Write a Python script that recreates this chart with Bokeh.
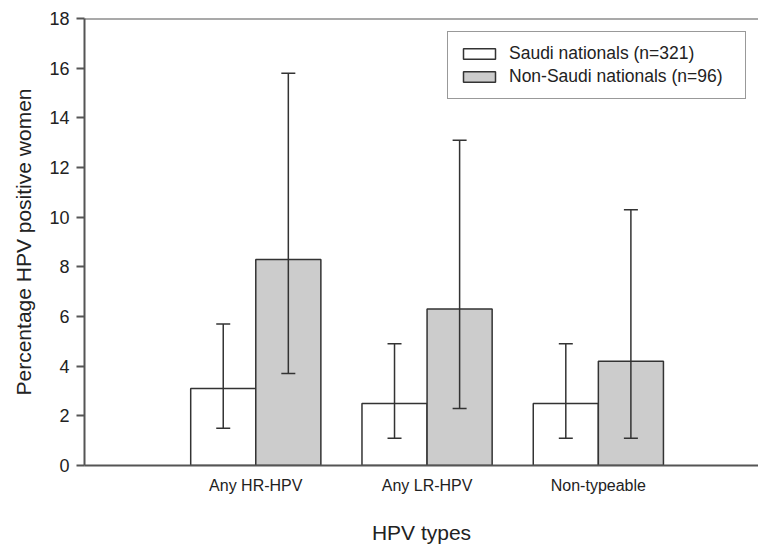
from bokeh.plotting import figure
from bokeh.models import (Range1d, FixedTicker, ColumnDataSource, Whisker, TeeHead,
                          Legend, LegendItem, Span)
from bokeh.embed import file_html
from bokeh.resources import INLINE

# ---- data ----
categories = ["Any HR-HPV", "Any LR-HPV", "Non-typeable"]
series_names = ["Saudi nationals (n=321)", "Non-Saudi nationals (n=96)"]
saudi = [3.1, 2.5, 2.5]
saudi_lower = [1.5, 1.1, 1.1]
saudi_upper = [5.7, 4.9, 4.9]
non_saudi = [8.3, 6.3, 4.2]
non_saudi_lower = [3.7, 2.3, 1.1]
non_saudi_upper = [15.8, 13.1, 10.3]
y_ticks = [0, 2, 4, 6, 8, 10, 12, 14, 16, 18]

# ---- styling ----
FONT = "Liberation Sans"
AXIS_COLOR = "#555555"
EDGE = "#333333"
TEXT = "#222222"
bar_w = 0.38
pos = [i + 1 for i in range(len(categories))]

src_s = ColumnDataSource(dict(x=[p - bar_w / 2 for p in pos], top=saudi,
                              lower=saudi_lower, upper=saudi_upper))
src_n = ColumnDataSource(dict(x=[p + bar_w / 2 for p in pos], top=non_saudi,
                              lower=non_saudi_lower, upper=non_saudi_upper))

p = figure(width=758, height=546, output_backend="svg", toolbar_location=None,
           x_range=Range1d(0, 3.935), y_range=Range1d(y_ticks[0], y_ticks[-1]),
           min_border_left=84, min_border_right=0, min_border_top=18, min_border_bottom=80)
p.outline_line_color = None
p.background_fill_color = "white"
p.border_fill_color = "white"
p.xgrid.visible = False
p.ygrid.visible = False

r1 = p.vbar(x="x", top="top", bottom=0, width=bar_w, source=src_s,
            fill_color="white", line_color=EDGE, line_width=1.5)
r2 = p.vbar(x="x", top="top", bottom=0, width=bar_w, source=src_n,
            fill_color="#cccccc", line_color=EDGE, line_width=1.5)

for src in (src_s, src_n):
    w = Whisker(source=src, base="x", upper="upper", lower="lower",
                line_color=EDGE, line_width=1.5, level="overlay",
                upper_head=TeeHead(size=14, line_color=EDGE, line_width=1.5),
                lower_head=TeeHead(size=14, line_color=EDGE, line_width=1.5))
    p.add_layout(w)

p.add_layout(Span(location=y_ticks[-1], dimension="width",
                  line_color=AXIS_COLOR, line_width=2))

# y axis
ya = p.yaxis[0]
ya.ticker = FixedTicker(ticks=y_ticks)
ya.axis_label = "Percentage HPV positive women"
ya.axis_label_text_font = FONT
ya.axis_label_text_font_size = "21px"
ya.axis_label_text_font_style = "normal"
ya.axis_label_text_color = TEXT
ya.axis_label_standoff = 11
ya.major_label_text_font = FONT
ya.major_label_text_font_size = "18px"
ya.major_label_text_color = TEXT
ya.major_label_standoff = 7
ya.major_tick_out = 8
ya.major_tick_in = 0
ya.minor_tick_out = 0
ya.minor_tick_in = 0
ya.axis_line_color = AXIS_COLOR
ya.axis_line_width = 2
ya.major_tick_line_color = AXIS_COLOR
ya.major_tick_line_width = 2

# x axis
xa = p.xaxis[0]
xa.ticker = FixedTicker(ticks=pos)
xa.major_label_overrides = {pp: c for pp, c in zip(pos, categories)}
xa.axis_label = "HPV types"
xa.axis_label_text_font = FONT
xa.axis_label_text_font_size = "21px"
xa.axis_label_text_font_style = "normal"
xa.axis_label_text_color = TEXT
xa.axis_label_standoff = 24
xa.major_label_text_font = FONT
xa.major_label_text_font_size = "16px"
xa.major_label_text_color = TEXT
xa.major_label_standoff = 11
xa.major_tick_out = 0
xa.major_tick_in = 0
xa.minor_tick_out = 0
xa.minor_tick_in = 0
xa.axis_line_color = AXIS_COLOR
xa.axis_line_width = 2

legend = Legend(items=[LegendItem(label=series_names[0], renderers=[r1]),
                       LegendItem(label=series_names[1], renderers=[r2])],
                location=(363, 366), margin=0, padding=11, spacing=2,
                glyph_width=40, glyph_height=13, label_standoff=10, label_width=225,
                label_text_font=FONT, label_text_font_size="17.5px", label_text_color=TEXT,
                border_line_color=EDGE, border_line_width=1.5,
                background_fill_color="white", background_fill_alpha=1)
p.add_layout(legend, "center")

open("out.html", "w").write(file_html(p, INLINE))
